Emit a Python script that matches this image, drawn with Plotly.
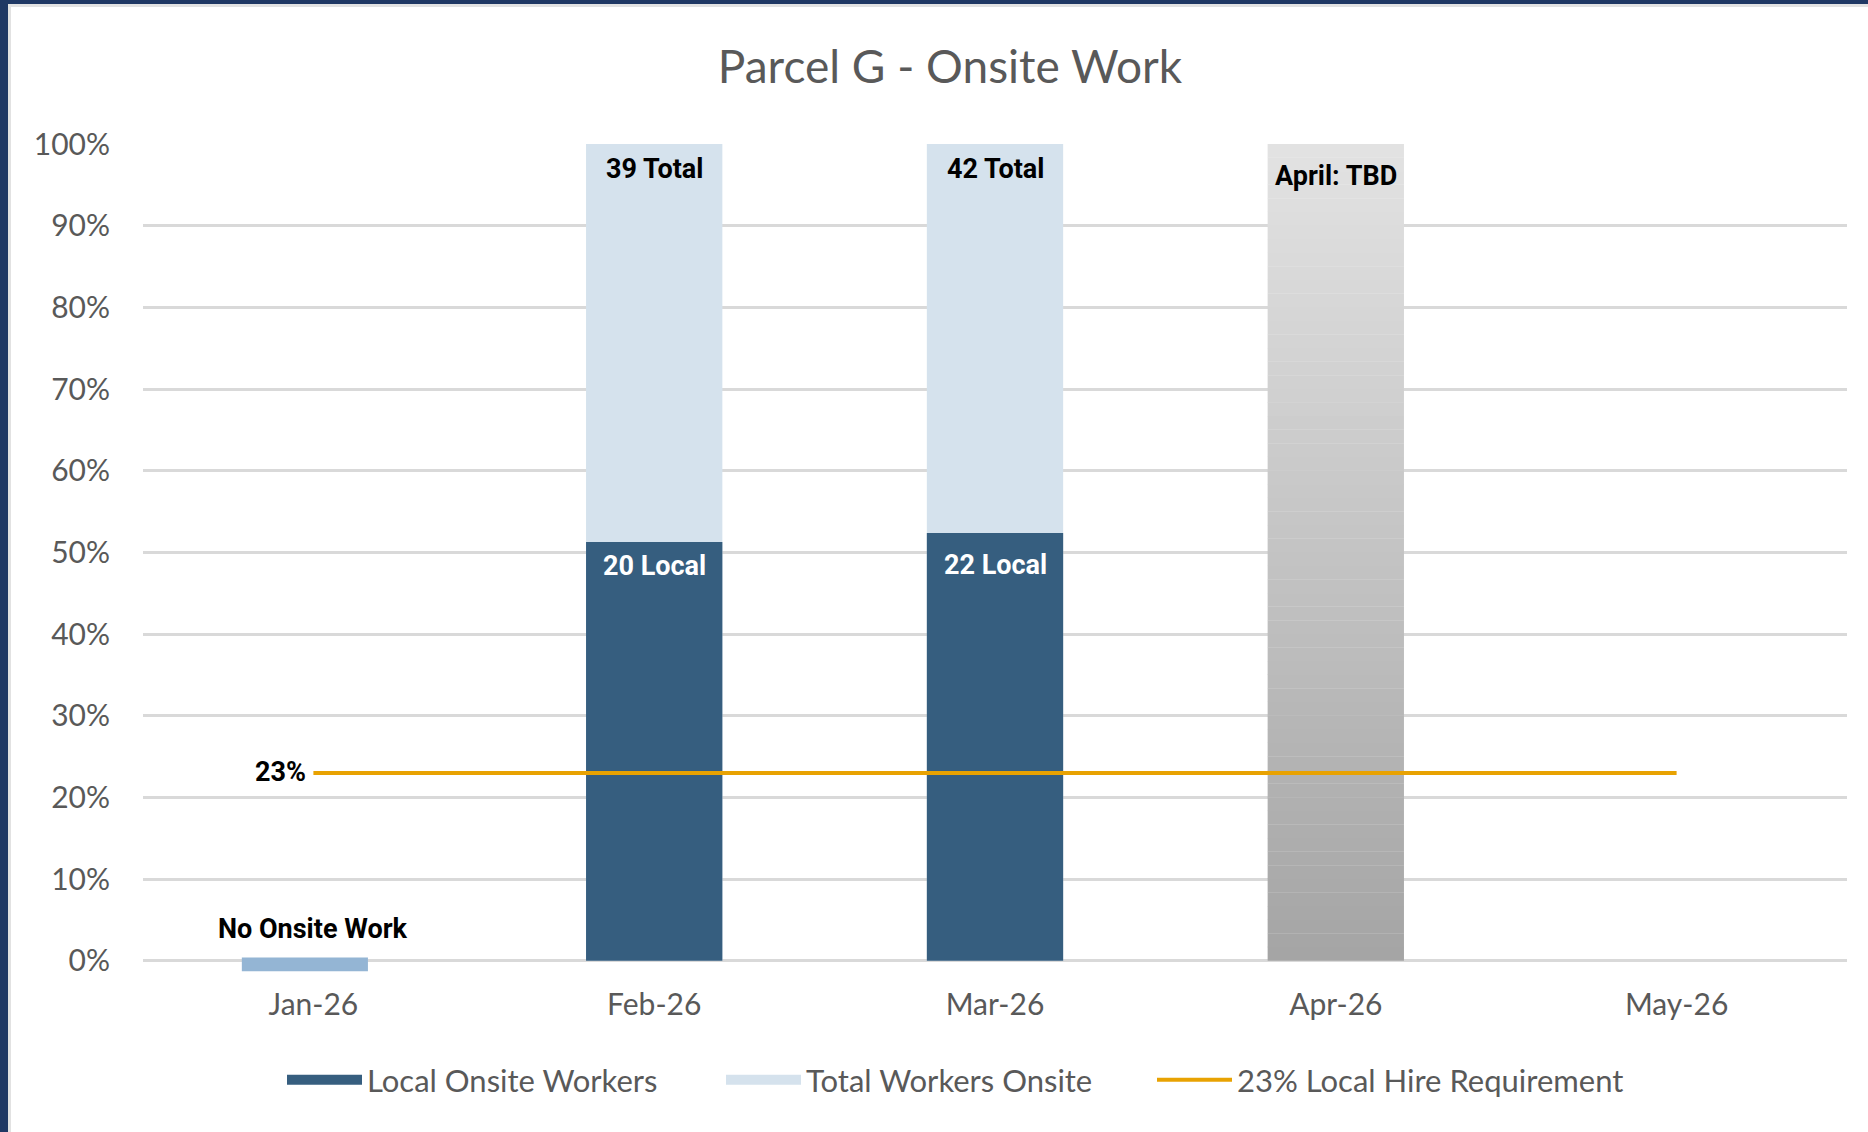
import plotly.graph_objects as go

# ---------------- data ----------------
months = ["Jan-26", "Feb-26", "Mar-26", "Apr-26", "May-26"]
local_workers = [None, 20, 22, None, None]
total_workers = [None, 39, 42, None, None]
hire_requirement_pct = [23, 23, 23, 23, 23]
tbd_month = "Apr-26"
tbd_pct = 100
no_work_month = "Jan-26"
no_work_marker = [-1.3, 0.4]  # small placeholder bar drawn around 0%
y_ticks = [0, 10, 20, 30, 40, 50, 60, 70, 80, 90, 100]
y_tick_labels = [f"{v}%" for v in y_ticks]

# ---------------- styles ----------------
W, H = 1868, 1132
Y_MIN, Y_MAX = -1.5, 100
ML, MR, MT, MB = 143, 21, 144, 159
PW, PH = W - ML - MR, H - MT - MB
NAVY = "#1f3864"
DARK = "#365e7f"
LIGHT = "#d5e2ed"
JAN = "#94b5d4"
ORANGE = "#e8a202"
GRID = "#d9d9d9"
GRAYTXT = "#595959"
LABEL_FONT = dict(family="Roboto", size=27, color="black", weight="bold")
LOCAL_LABEL_SHIFT = {"Feb-26": -6, "Mar-26": -14}

local_pct = [None if l is None else l / t * 100 for l, t in zip(local_workers, total_workers)]
total_pct = [None if t is None else 100 for t in total_workers]


def px_x(p):
    return (p - ML) / PW


def px_y(p):
    return 1 - (p - MT) / PH


fig = go.Figure()

# Total workers (full 100% bar, drawn underneath)
fig.add_trace(go.Bar(
    x=months, y=total_pct, name="Total Workers Onsite",
    marker=dict(color=LIGHT, line=dict(width=0)), width=0.4,
    showlegend=False, legendgroup="total", hoverinfo="skip",
))
# Local workers (overlaid)
fig.add_trace(go.Bar(
    x=months, y=local_pct, name="Local Onsite Workers",
    marker=dict(color=DARK, line=dict(width=0)), width=0.4,
    showlegend=False, legendgroup="local", hoverinfo="skip",
))

# April TBD bar with vertical gradient (split into thin slices)
N = 60
top_rgb = (0xe3, 0xe3, 0xe3)
bot_rgb = (0xa4, 0xa4, 0xa4)
seg = tbd_pct / N
cols = []
for i in range(N):
    f = (i + 0.5) / N
    c = tuple(round(b + (t - b) * f) for t, b in zip(top_rgb, bot_rgb))
    cols.append("rgb(%d,%d,%d)" % c)
fig.add_trace(go.Bar(
    x=[tbd_month] * N, y=[seg * 1.02] * N, base=[i * seg for i in range(N)],
    marker=dict(color=cols, line=dict(width=0)), width=0.4,
    showlegend=False, hoverinfo="skip",
))

# January "no onsite work" placeholder bar
fig.add_trace(go.Bar(
    x=[no_work_month], y=[no_work_marker[1] - no_work_marker[0]], base=[no_work_marker[0]],
    marker=dict(color=JAN, line=dict(width=0)), width=0.37, offset=-0.21,
    showlegend=False, hoverinfo="skip",
))

# 23% requirement line
fig.add_trace(go.Scatter(
    x=months, y=hire_requirement_pct, mode="lines",
    name="23% Local Hire Requirement",
    line=dict(color=ORANGE, width=4),
    legend="legend3", hoverinfo="skip",
))

# legend swatches for the bar series
fig.add_trace(go.Scatter(x=[None], y=[None], mode="lines", name="Local Onsite Workers",
                         line=dict(color=DARK, width=10), legend="legend", legendgroup="local",
                         hoverinfo="skip"))
fig.add_trace(go.Scatter(x=[None], y=[None], mode="lines", name="Total Workers Onsite",
                         line=dict(color=LIGHT, width=10), legend="legend2", legendgroup="total",
                         hoverinfo="skip"))

# bar labels
annotations = []
for m, l, t, lp, tp in zip(months, local_workers, total_workers, local_pct, total_pct):
    if t is None:
        continue
    annotations.append(dict(x=m, y=tp, xref="x", yref="y", text=f"{t} Total",
                            showarrow=False, yanchor="top", yshift=-7, font=LABEL_FONT))
    annotations.append(dict(x=m, y=lp, xref="x", yref="y", text=f"{l} Local",
                            showarrow=False, yanchor="top", yshift=LOCAL_LABEL_SHIFT.get(m, -6),
                            font=dict(LABEL_FONT, color="white")))
annotations.append(dict(x=tbd_month, y=tbd_pct, xref="x", yref="y", text="April: TBD",
                        showarrow=False, yanchor="top", yshift=-14, font=LABEL_FONT))
annotations.append(dict(x=no_work_month, y=no_work_marker[1], xref="x", yref="y", text="No Onsite Work",
                        showarrow=False, yanchor="bottom", yshift=10, font=LABEL_FONT))
annotations.append(dict(x=months[0], y=hire_requirement_pct[0], xref="x", yref="y",
                        text=f"{hire_requirement_pct[0]}%", showarrow=False,
                        xanchor="right", yanchor="middle", xshift=-5, yshift=1,
                        font=dict(LABEL_FONT, size=27)))

# border decoration (navy frame on top & left)
shapes = [
    dict(type="rect", xref="paper", yref="paper", x0=px_x(0), x1=px_x(W), y0=px_y(7), y1=px_y(4),
         fillcolor="#e2e2e2", line=dict(width=0), layer="below"),
    dict(type="rect", xref="paper", yref="paper", x0=px_x(8), x1=px_x(11), y0=px_y(H), y1=px_y(4),
         fillcolor="#e2e2e2", line=dict(width=0), layer="below"),
    dict(type="rect", xref="paper", yref="paper", x0=px_x(0), x1=px_x(W), y0=px_y(4), y1=px_y(0),
         fillcolor=NAVY, line=dict(width=0), layer="above"),
    dict(type="rect", xref="paper", yref="paper", x0=px_x(0), x1=px_x(8), y0=px_y(H), y1=px_y(0),
         fillcolor=NAVY, line=dict(width=0), layer="above"),
]

LEG_FONT = dict(family="Lato", size=31, color=GRAYTXT)
LEG_Y = px_y(1080)


def legend_at(x_px):
    return dict(orientation="h", x=px_x(x_px), xanchor="left", y=LEG_Y, yanchor="middle",
                itemwidth=75, font=LEG_FONT, bgcolor="rgba(0,0,0,0)")


fig.update_layout(
    width=W, height=H,
    margin=dict(l=ML, r=MR, t=MT, b=MB, pad=0),
    paper_bgcolor="white", plot_bgcolor="white",
    barmode="overlay",
    title=dict(text="Parcel G - Onsite Work", x=950 / W, xref="container", xanchor="center",
               y=1 - 67 / H, yref="container", yanchor="middle",
               font=dict(family="Lato", size=46, color=GRAYTXT)),
    font=dict(family="Lato", color=GRAYTXT),
    xaxis=dict(type="category", categoryorder="array", categoryarray=months,
               range=[-0.5, len(months) - 0.5], showgrid=False, showline=False, zeroline=False,
               ticks="", tickfont=dict(family="Lato", size=30, color=GRAYTXT), ticklabelstandoff=11),
    yaxis=dict(range=[Y_MIN, Y_MAX], tickvals=y_ticks, ticktext=y_tick_labels,
               showgrid=True, gridcolor=GRID, gridwidth=3, zeroline=False, showline=False,
               ticks="", tickfont=dict(family="Lato", size=30, color=GRAYTXT), ticklabelstandoff=32),
    legend=legend_at(282),
    legend2=legend_at(721),
    legend3=legend_at(1152),
    annotations=annotations,
    shapes=shapes,
    showlegend=True,
)

fig.write_html("out.html", config={"displayModeBar": False},
               post_script="document.body.style.margin='0';document.body.style.overflow='hidden';")
